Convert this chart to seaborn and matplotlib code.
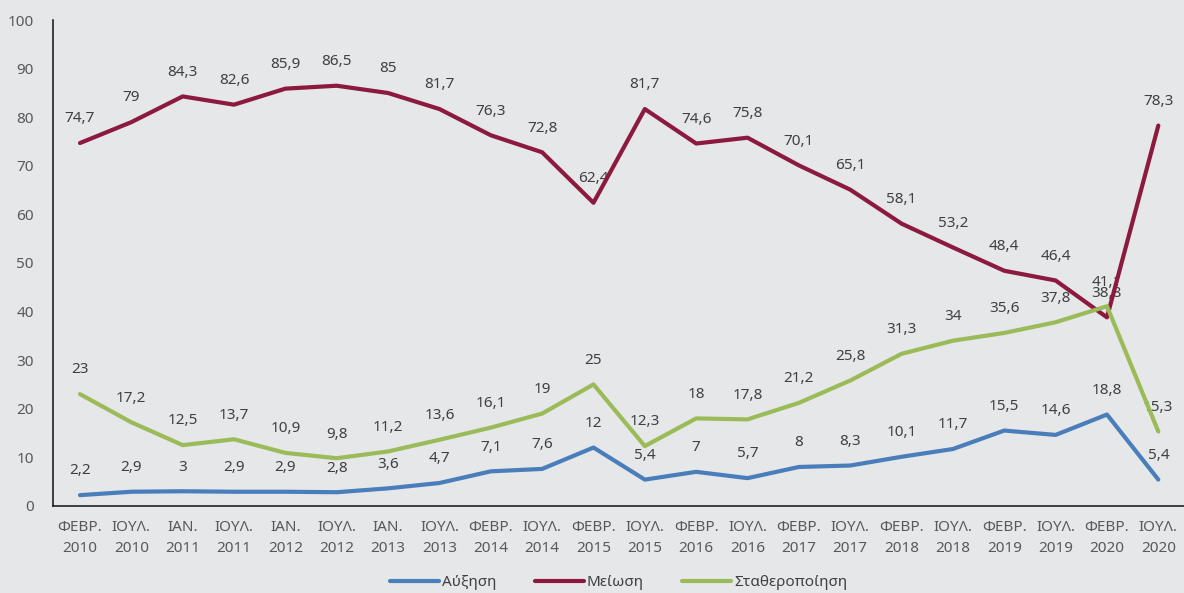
import matplotlib
matplotlib.use("Agg")
import matplotlib.pyplot as plt
import seaborn as sns
import pandas as pd
import numpy as np

categories = ["ΦΕΒΡ.\n2010", "ΙΟΥΛ.\n2010", "ΙΑΝ.\n2011", "ΙΟΥΛ.\n2011", "ΙΑΝ.\n2012", "ΙΟΥΛ.\n2012",
              "ΙΑΝ.\n2013", "ΙΟΥΛ.\n2013", "ΦΕΒΡ.\n2014", "ΙΟΥΛ.\n2014", "ΦΕΒΡ.\n2015", "ΙΟΥΛ.\n2015",
              "ΦΕΒΡ.\n2016", "ΙΟΥΛ.\n2016", "ΦΕΒΡ.\n2017", "ΙΟΥΛ.\n2017", "ΦΕΒΡ.\n2018", "ΙΟΥΛ.\n2018",
              "ΦΕΒΡ.\n2019", "ΙΟΥΛ.\n2019", "ΦΕΒΡ.\n2020", "ΙΟΥΛ.\n2020"]
auxisi = [2.2, 2.9, 3, 2.9, 2.9, 2.8, 3.6, 4.7, 7.1, 7.6, 12, 5.4, 7, 5.7, 8, 8.3, 10.1, 11.7, 15.5, 14.6, 18.8, 5.4]
meiosi = [74.7, 79, 84.3, 82.6, 85.9, 86.5, 85, 81.7, 76.3, 72.8, 62.4, 81.7, 74.6, 75.8, 70.1, 65.1, 58.1, 53.2,
          48.4, 46.4, 38.8, 78.3]
stathero = [23, 17.2, 12.5, 13.7, 10.9, 9.8, 11.2, 13.6, 16.1, 19, 25, 12.3, 18, 17.8, 21.2, 25.8, 31.3, 34, 35.6,
            37.8, 41.1, 15.3]
series_names = ["Αύξηση", "Μείωση", "Σταθεροποίηση"]
colors = ["#4a7ebb", "#8b1a3e", "#9bbb59"]

bg = "#e6e7e9"
sns.set_theme(style="white")
plt.rcParams['font.family'] = ['Noto Sans', 'DejaVu Sans']

rows = []
for name, vals in zip(series_names, [auxisi, meiosi, stathero]):
    for i, v in enumerate(vals):
        rows.append({"x": i, "value": v, "series": name})
df = pd.DataFrame(rows)

fig = plt.figure(figsize=(11.84, 5.93), dpi=100, facecolor=bg)
ax = fig.add_axes([0.045, 0.147, 0.955, 0.819])
ax.set_facecolor(bg)

sns.lineplot(data=df, x="x", y="value", hue="series", palette=dict(zip(series_names, colors)),
             linewidth=3, sort=False, ax=ax, zorder=3)

for name, vals in zip(series_names, [auxisi, meiosi, stathero]):
    for i, v in enumerate(vals):
        lab = f"{v:g}".replace(".", ",")
        ax.annotate(lab, (i, v), xytext=(0, 12), textcoords="offset points", ha="center", va="bottom",
                    fontsize=11, color="#404040", zorder=2)

ax.set_xlim(-0.52, 21.5)
ax.set_ylim(0, 100)
ax.set_yticks(np.arange(0, 101, 10))
ax.set_xticks(range(len(categories)))
ax.set_xticklabels(categories, fontsize=11, color="#595959", linespacing=1.6)
ax.tick_params(axis="y", labelsize=11, labelcolor="#595959", length=0, pad=14)
ax.tick_params(axis="x", length=0, pad=10)
ax.set_xlabel("")
ax.set_ylabel("")
for s in ["top", "right"]:
    ax.spines[s].set_visible(False)
for s in ["left", "bottom"]:
    ax.spines[s].set_color("#222222")
    ax.spines[s].set_linewidth(1.2)

ax.legend(loc="center", bbox_to_anchor=(0.5, -0.158), ncol=3, frameon=False, fontsize=11,
          handlelength=3.2, handletextpad=0.2, columnspacing=2.5, labelcolor="#404040",
          borderpad=0, borderaxespad=0)

fig.savefig("out.png", dpi=100, facecolor=bg)
